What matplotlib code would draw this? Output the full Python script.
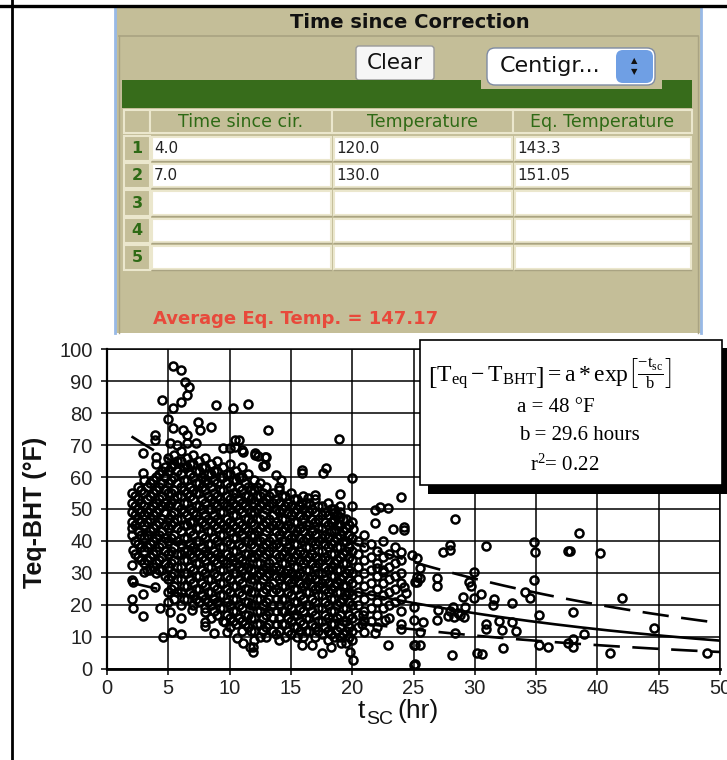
import numpy as np
import matplotlib
matplotlib.use("Agg")
import matplotlib.pyplot as plt
from matplotlib.patches import Rectangle, FancyBboxPatch

# ---- data: (t_sc hours, Teq-BHT degF) ----
upper_pts = [(5.4, 94.7), (6.0, 93.4), (6.4, 89.8), (6.7, 88.2), (6.5, 85.6), (4.5, 84.1),
             (6.0, 83.5), (5.4, 81.5), (8.9, 82.5), (10.3, 81.5), (11.5, 82.7), (5.0, 78.0),
             (7.4, 77.3), (7.6, 74.7), (8.5, 75.5), (6.2, 74.7), (6.5, 73.1), (5.4, 75.3),
             (3.9, 73.1), (3.9, 71.6), (10.4, 71.6), (10.8, 71.6), (9.5, 69.0), (10.0, 69.0),
             (10.4, 69.5), (11.0, 68.4), (11.1, 67.9), (12.1, 66.9), (2.9, 67.4), (4.0, 66.3),
             (4.0, 64.2), (2.9, 61.3), (5.1, 70.5), (5.7, 70.0), (6.5, 70.5), (7.3, 70.5),
             (13.1, 74.7), (18.9, 71.9), (12.1, 67.4), (12.9, 66.3), (12.7, 63.4), (12.3, 66.6),
             (13.0, 66.3), (12.9, 63.8), (13.8, 60.6), (14.2, 59.0), (14.0, 57.0), (15.9, 62.2),
             (15.9, 61.2), (17.9, 62.7), (17.6, 61.2), (20.0, 59.6), (19.0, 54.6), (24.0, 53.9),
             (17.0, 54.4), (16.4, 53.3), (15.9, 51.8), (19.0, 51.0), (20.0, 51.0), (22.3, 50.5),
             (22.9, 50.2), (21.9, 49.7), (21.9, 45.5), (23.3, 43.9), (24.2, 43.4), (24.2, 44.5),
             (18.9, 45.0), (18.7, 43.4), (20.1, 43.9), (18.5, 48.7), (19.0, 47.6), (18.5, 46.1)]

tail_pts = [(28.4, 46.9), (28.0, 38.8), (28.0, 37.2), (27.4, 36.7), (30.9, 38.5), (34.8, 39.8),
            (34.9, 36.7), (37.6, 37.0), (24.9, 35.6), (25.5, 31.6), (25.3, 28.8), (25.5, 28.3),
            (25.1, 27.3), (26.9, 28.3), (26.9, 25.9), (29.9, 30.4), (29.5, 27.3), (29.7, 25.9),
            (34.8, 27.8), (34.1, 24.2), (34.5, 22.1), (29.0, 22.6), (29.9, 22.1), (30.5, 23.3),
            (31.6, 21.8), (31.5, 20.0), (33.0, 20.5), (35.2, 16.9), (28.2, 19.5), (28.0, 18.0),
            (28.6, 17.5), (27.8, 16.6), (28.3, 16.2), (28.8, 16.8), (27.0, 18.4), (26.9, 15.3),
            (25.8, 14.8), (25.0, 19.5), (25.0, 15.3), (29.2, 19.5), (29.1, 16.3), (30.9, 14.1),
            (30.9, 12.4), (32.0, 15.1), (33.0, 14.8), (33.4, 12.0), (32.2, 12.2), (28.4, 11.1),
            (25.5, 11.7), (25.1, 7.5), (25.5, 7.5), (28.1, 4.4), (30.2, 5.1), (30.6, 4.7),
            (32.3, 6.5), (35.2, 7.5), (36.0, 7.0), (25.1, 1.6), (37.6, 8.0), (38.5, 42.6),
            (37.8, 37.0), (40.2, 36.4), (42.0, 22.1), (38.0, 17.7), (44.6, 12.9), (38.9, 10.9),
            (38.0, 9.3), (38.0, 7.0), (41.0, 4.9), (48.9, 4.9), (24.0, 36.7), (25.3, 34.6),
            (25.3, 27.3), (24.2, 25.7), (24.4, 23.6)]

low_pts = [(2.0, 41.9), (2.1, 37.2), (2.0, 32.5), (3.0, 30.4), (2.0, 27.8), (2.1, 27.3),
           (3.9, 25.5), (2.9, 23.4), (2.0, 21.8), (2.1, 19.0), (2.9, 16.6), (4.3, 19.0),
           (5.1, 17.9), (6.0, 15.8), (6.9, 18.4), (8.0, 17.9), (8.0, 14.8), (8.0, 13.3),
           (4.6, 10.1), (5.3, 11.7), (6.0, 10.9), (8.7, 11.1), (9.6, 14.8), (9.8, 11.7),
           (10.6, 9.6), (11.1, 8.0), (11.7, 7.0), (11.9, 5.4), (11.9, 7.0), (15.9, 7.5),
           (16.7, 7.5), (17.5, 4.9), (18.3, 7.0), (19.1, 8.0), (19.8, 5.4), (20.1, 2.8),
           (22.9, 7.5), (25.0, 7.5), (25.0, 1.2), (22.0, 31.5), (22.5, 30.4), (20.9, 16.9),
           (20.8, 14.2), (22.7, 15.3), (24.0, 14.2), (24.0, 12.6), (21.9, 11.1), (21.0, 11.7)]

# dense core, column by column (t, [Teq-BHT values])
core_early = [(2.0, [55, 52, 49, 46, 44]),
              (2.25, [54, 51, 48, 45, 40, 36]),
              (2.5, [57, 53, 50, 47, 43, 39, 35]),
              (2.75, [56, 52, 49, 46, 42, 38, 34]),
              (3.0, [59, 55, 51, 48, 45, 41, 37, 33]),
              (3.25, [57, 53, 49, 46, 42, 38, 34, 31]),
              (3.5, [58, 54, 50, 47, 43, 39, 35, 31]),
              (3.75, [59, 55, 51, 48, 44, 40, 36, 32]),
              (4.0, [60, 56, 52, 49, 45, 41, 37, 33, 30]),
              (4.25, [61, 57, 53, 50, 46, 42, 38, 34, 31]),
              (4.5, [62, 58, 54, 51, 47, 43, 39, 35, 31]),
              (4.75, [63, 60, 56, 52, 49, 45, 41, 37, 33, 29]),
              (5.0, [66, 62, 58, 55, 51, 47, 44, 40, 36, 32, 28, 24, 21]),
              (5.25, [63, 59, 55, 52, 48, 45, 41, 37, 33, 29, 25]),
              (5.5, [67, 64, 60, 56, 53, 49, 46, 42, 38, 34, 30, 26, 22]),
              (5.75, [65, 62, 58, 54, 51, 47, 44, 40, 36, 32, 28, 24]),
              (6.0, [68, 65, 61, 57, 54, 50, 47, 43, 39, 36, 32, 28, 24, 20]),
              (6.25, [63, 59, 56, 52, 49, 45, 41, 37, 34, 30, 26, 22]),
              (6.5, [66, 63, 59, 55, 52, 48, 45, 41, 37, 34, 30, 26, 22]),
              (6.75, [64, 61, 57, 54, 50, 46, 43, 39, 36, 32, 28, 24]),
              (7.0, [67, 64, 60, 56, 53, 49, 46, 42, 38, 35, 31, 27, 23, 20]),
              (7.25, [62, 58, 55, 51, 48, 44, 40, 37, 33, 29, 25, 22]),
              (7.5, [65, 62, 58, 55, 51, 47, 44, 40, 36, 33, 29, 25, 21]),
              (7.75, [63, 60, 57, 53, 50, 46, 42, 38, 35, 31, 27, 23])]
core_mid = [(8.0, [66, 63, 59, 56, 52, 48, 45, 41, 37, 34, 30, 26, 22, 19]),
            (8.25, [61, 58, 54, 50, 47, 43, 39, 36, 32, 28, 24, 21]),
            (8.5, [64, 61, 57, 53, 50, 46, 43, 39, 35, 32, 28, 24, 20, 16]),
            (8.75, [62, 59, 55, 52, 48, 45, 41, 37, 34, 30, 26, 22, 18]),
            (9.0, [65, 62, 58, 54, 51, 47, 44, 40, 36, 33, 29, 25, 21, 17]),
            (9.25, [60, 56, 53, 49, 46, 42, 38, 35, 31, 27, 23, 19]),
            (9.5, [63, 60, 56, 52, 49, 45, 42, 38, 34, 31, 27, 23, 19, 15]),
            (9.75, [61, 58, 54, 51, 47, 44, 40, 36, 33, 29, 25, 21, 17]),
            (10.0, [64, 61, 57, 53, 50, 46, 43, 39, 35, 32, 28, 24, 20, 16, 13]),
            (10.25, [59, 55, 52, 48, 45, 41, 37, 34, 30, 26, 22, 18, 15]),
            (10.5, [62, 59, 55, 51, 48, 44, 41, 37, 33, 30, 26, 22, 18, 14]),
            (10.75, [60, 57, 53, 50, 46, 43, 39, 35, 32, 28, 24, 20, 16]),
            (11.0, [63, 60, 56, 52, 49, 45, 42, 38, 34, 31, 27, 23, 19, 15, 12]),
            (11.25, [58, 54, 51, 47, 44, 40, 36, 33, 29, 25, 21, 17, 14]),
            (11.5, [61, 57, 54, 50, 47, 43, 40, 36, 32, 29, 25, 21, 17, 13]),
            (11.75, [56, 53, 49, 46, 42, 39, 35, 31, 28, 24, 20, 16, 12]),
            (12.0, [59, 56, 52, 49, 45, 42, 38, 35, 31, 28, 24, 20, 16, 12, 9]),
            (12.25, [57, 54, 50, 47, 43, 40, 36, 33, 29, 26, 22, 18, 14]),
            (12.5, [58, 54, 51, 47, 44, 40, 37, 33, 30, 26, 22, 18, 14, 10]),
            (12.75, [55, 52, 48, 45, 41, 38, 35, 31, 28, 24, 20, 16, 12]),
            (13.0, [57, 53, 50, 46, 43, 39, 36, 32, 29, 25, 21, 17, 13, 10]),
            (13.25, [54, 51, 47, 44, 40, 37, 33, 30, 26, 22, 18, 14]),
            (13.5, [55, 52, 48, 45, 41, 38, 34, 31, 27, 24, 20, 16, 12]),
            (13.75, [53, 50, 46, 43, 39, 36, 32, 29, 25, 22, 18, 14, 11]),
            (14.0, [56, 52, 49, 45, 42, 38, 35, 31, 28, 24, 20, 16, 12, 9]),
            (14.25, [54, 50, 47, 43, 40, 36, 33, 29, 26, 22, 18, 14]),
            (14.5, [54, 51, 47, 44, 40, 37, 33, 30, 26, 22, 18, 14, 10]),
            (14.75, [52, 49, 45, 42, 38, 35, 31, 28, 24, 20, 16, 12]),
            (15.0, [55, 51, 48, 44, 41, 37, 34, 30, 27, 23, 19, 15, 11]),
            (15.25, [53, 49, 46, 42, 39, 35, 32, 28, 25, 21, 17, 13]),
            (15.5, [53, 50, 46, 43, 39, 36, 32, 29, 25, 21, 17, 13, 10]),
            (15.75, [51, 48, 44, 41, 37, 34, 30, 27, 23, 19, 15, 12])]
core_late = [(16.0, [54, 50, 47, 43, 40, 36, 33, 29, 26, 22, 18, 14, 10]),
             (16.25, [52, 48, 45, 41, 38, 34, 31, 27, 24, 20, 16, 12]),
             (16.5, [52, 49, 45, 42, 38, 35, 31, 28, 24, 20, 16, 12]),
             (16.75, [50, 47, 43, 40, 36, 33, 29, 26, 22, 18, 14]),
             (17.0, [53, 49, 46, 42, 39, 35, 32, 28, 25, 21, 17, 13, 10]),
             (17.25, [51, 47, 44, 40, 37, 33, 30, 26, 23, 19, 15, 12]),
             (17.5, [51, 48, 44, 41, 37, 34, 30, 27, 23, 19, 15, 11]),
             (17.75, [49, 46, 42, 39, 35, 32, 28, 25, 21, 17, 13]),
             (18.0, [52, 48, 45, 41, 38, 34, 31, 27, 24, 20, 16, 12, 9]),
             (18.25, [50, 46, 43, 39, 36, 32, 29, 25, 22, 18, 14, 11]),
             (18.5, [50, 47, 43, 40, 36, 33, 29, 26, 22, 18, 14, 10]),
             (18.75, [48, 45, 41, 38, 34, 31, 27, 24, 20, 16, 12]),
             (19.0, [49, 45, 42, 38, 35, 31, 28, 24, 21, 17, 13, 10]),
             (19.25, [47, 43, 40, 36, 33, 29, 26, 22, 19, 15, 11]),
             (19.5, [47, 44, 40, 37, 33, 30, 26, 23, 19, 15, 12, 8]),
             (19.75, [45, 42, 38, 35, 31, 28, 24, 21, 17, 13, 10]),
             (20.0, [46, 41, 37, 34, 30, 27, 23, 20, 16, 12, 9]),
             (20.5, [40, 36, 32, 28, 24, 20, 17, 13]),
             (21.0, [42, 38, 34, 30, 26, 22, 18, 15]),
             (21.5, [39, 35, 31, 27, 23, 19, 15]),
             (22.0, [37, 33, 29, 25, 21, 17, 13]),
             (22.5, [40, 35, 31, 27, 23, 19]),
             (23.0, [36, 32, 28, 24, 20, 16]),
             (23.5, [38, 33, 29, 25, 21]),
             (24.0, [34, 30, 27, 22, 18])]

# fit shown in the box: Teq-BHT = a*exp(-t/b), with upper/lower band
fit_a = 48.0
fit_b = 29.6
fit_r2 = 0.22
band_hi = 1.62
band_lo = 0.6

# table widget
table_head = ["Time since cir.", "Temperature", "Eq. Temperature"]
table_rows = [["4.0", "120.0", "143.3"],
              ["7.0", "130.0", "151.05"],
              ["", "", ""],
              ["", "", ""],
              ["", "", ""]]
avg_eq = 147.17

plt.rcParams['mathtext.fontset'] = 'custom'
plt.rcParams['mathtext.rm'] = 'Liberation Serif'
plt.rcParams['mathtext.it'] = 'Liberation Serif:italic'
plt.rcParams['lines.scale_dashes'] = False

W, H = 727, 760
fig = plt.figure(figsize=(W / 100, H / 100), dpi=100)

# ---------- background / widget panel (pixel coordinates) ----------
bg = fig.add_axes([0, 0, 1, 1], zorder=0)
bg.set_xlim(0, W)
bg.set_ylim(H, 0)
bg.axis('off')

tan = '#c4be98'
tan_dk = '#a9a382'
tan_lt = '#ebe7cd'
green = '#376c1b'
hgreen = '#2e6a15'

bg.add_patch(Rectangle((116, 8), 585, 325, fc=tan, ec='none'))
bg.plot([115, 115], [8, 333], color='#98b9e6', lw=2)
bg.plot([701, 701], [8, 333], color='#98b9e6', lw=2)
bg.plot([119, 698], [36, 36], color=tan_dk, lw=1.2)
bg.plot([119, 119], [36, 333], color=tan_dk, lw=1)
bg.plot([698, 698], [36, 333], color=tan_dk, lw=1)
bg.text(410, 22, "Time since Correction", ha='center', va='center',
        fontsize=14, fontweight='bold', color='#111111')

# buttons
bg.add_patch(FancyBboxPatch((356, 46), 78, 34, boxstyle='round,pad=0,rounding_size=3',
                            fc='#f6f6f6', ec='#9a9a9a', lw=1))
bg.text(395, 63, "Clear", ha='center', va='center', fontsize=15.5, color='#111111')

bg.add_patch(Rectangle((122, 80), 570, 28, fc=green, ec='none'))
bg.add_patch(Rectangle((481, 79), 181, 10, fc=tan, ec='none'))
bg.add_patch(FancyBboxPatch((487, 48), 168, 37, boxstyle='round,pad=0,rounding_size=8',
                            fc='white', ec='#7f8ba3', lw=1))
bg.add_patch(FancyBboxPatch((616, 50), 37, 33, boxstyle='round,pad=0,rounding_size=7',
                            fc='#6f9fe4', ec='none'))
bg.text(500, 66, "Centigr...", ha='left', va='center', fontsize=16, color='#111111')
bg.text(634, 61, "\u25b2", ha='center', va='center', fontsize=6, color='#111111')
bg.text(634, 72, "\u25bc", ha='center', va='center', fontsize=6, color='#111111')

# table
col_x = [124, 150, 332, 513, 692]
for i in range(4):
    bg.add_patch(Rectangle((col_x[i], 110), col_x[i + 1] - col_x[i], 23,
                           fc=tan, ec=tan_lt, lw=1.5))
for i, name in enumerate(table_head):
    bg.text((col_x[i + 1] + col_x[i + 2]) / 2, 122, name, ha='center', va='center',
            fontsize=12.5, color=hgreen)
row_h = 27.2
for r, row in enumerate(table_rows):
    top = 136 + r * row_h
    bg.add_patch(Rectangle((col_x[0], top), col_x[1] - col_x[0], row_h - 2,
                           fc=tan, ec=tan_lt, lw=1.5))
    bg.text(137, top + row_h / 2 - 1, str(r + 1), ha='center', va='center',
            fontsize=11.5, fontweight='bold', color=hgreen)
    for c, val in enumerate(row):
        x0 = col_x[c + 1] + 2
        x1 = col_x[c + 2] - 1
        bg.add_patch(Rectangle((x0, top + 1), x1 - x0, row_h - 4,
                               fc='white', ec=tan_lt, lw=1.5))
        bg.plot([x0, x1], [top + row_h - 2, top + row_h - 2], color=tan_dk, lw=1)
        if val:
            bg.text(x0 + 2, top + row_h / 2 - 1, val, ha='left', va='center',
                    fontsize=11, color='#222222')

bg.text(153, 319, "Average Eq. Temp. = %.2f" % avg_eq, ha='left', va='center',
        fontsize=13, fontweight='bold', color='#e8493b')

# outer frame
bg.plot([0, W], [5.5, 5.5], color='black', lw=2.4)
bg.plot([12, 12], [0, H], color='black', lw=2)

# ---------- scatter chart ----------
ax = fig.add_axes([107 / W, 91 / H, 613 / W, 320 / H], zorder=5)
ax.set_facecolor('none')

pts = list(upper_pts) + list(tail_pts) + list(low_pts)
for cols in (core_early, core_mid, core_late):
    for t, vs in cols:
        pts += [(t, v) for v in vs]
t_all = np.array([p[0] for p in pts])
v_all = np.array([p[1] for p in pts])

ax.plot(t_all, v_all, 'o', ms=5.8, mfc='none', mec='black', mew=1.8, zorder=2)

t_fit = np.linspace(2, 50, 300)
mean_fit = fit_a * np.exp(-t_fit / fit_b)
ax.plot(t_fit, mean_fit, color='black', lw=1.9, zorder=3)
ax.plot(t_fit, band_hi * mean_fit, color='black', lw=1.9, dashes=(19, 9), zorder=3)
ax.plot(t_fit, band_lo * mean_fit, color='black', lw=1.9, dashes=(19, 9), zorder=3)

ax.set_xlim(0, 50)
ax.set_ylim(0, 100)
ax.set_xticks(np.arange(0, 51, 5))
ax.set_yticks(np.arange(0, 101, 10))
ax.grid(True, color='black', lw=1.1, zorder=1)
ax.set_axisbelow(True)
for s in ax.spines.values():
    s.set_color('black')
    s.set_linewidth(1.1)
ax.spines['bottom'].set_linewidth(2)
ax.spines['left'].set_linewidth(1.6)
ax.tick_params(direction='out', length=4.5, width=1.1, colors='black')
ax.tick_params(axis='y', pad=6)
ax.tick_params(axis='x', pad=3)
for lab in ax.get_xticklabels() + ax.get_yticklabels():
    lab.set_family('Liberation Sans')
    lab.set_fontsize(14.5)
    lab.set_color('#222222')

fig.text(35 / W, 1 - 512 / H, "Teq-BHT (\u00b0F)", rotation=90, ha='center', va='center',
         fontsize=18, fontweight='bold', family='Liberation Sans', color='#111111')
fig.text(358 / W, 1 - 718 / H, "t", ha='left', va='baseline', fontsize=19,
         family='Liberation Sans', color='#111111')
fig.text(366 / W, 1 - 724 / H, "SC", ha='left', va='baseline', fontsize=14,
         family='Liberation Sans', color='#111111')
fig.text(397 / W, 1 - 718 / H, "(hr)", ha='left', va='baseline', fontsize=19,
         family='Liberation Sans', color='#111111')

# ---------- equation box ----------
ov = fig.add_axes([0, 0, 1, 1], zorder=10)
ov.set_xlim(0, W)
ov.set_ylim(H, 0)
ov.axis('off')
ov.add_patch(Rectangle((428, 348), 310, 146, fc='black', ec='none'))
ov.add_patch(Rectangle((420, 340), 302, 145, fc='white', ec='black', lw=1.2))
eq = (r"$\left[\mathrm{T}_{\mathrm{eq}}-\mathrm{T}_{\mathrm{BHT}}\right]"
      r" = \mathrm{a}*\mathrm{exp}\left[\frac{-\mathrm{t}_{\mathrm{sc}}}{\mathrm{b}}\right]$")
ov.text(428, 374, eq, ha='left', va='center', fontsize=17, color='black')
ov.text(556, 407, "a = %g \u00b0F" % fit_a, ha='center', va='center', fontsize=15,
        family='Liberation Serif')
ov.text(579, 436, "b = %.1f hours" % fit_b, ha='center', va='center', fontsize=15,
        family='Liberation Serif')
ov.text(565, 465, r"r$^2$= %.2f" % fit_r2, ha='center', va='center', fontsize=15,
        family='Liberation Serif')

fig.savefig("out.png", dpi=100)
